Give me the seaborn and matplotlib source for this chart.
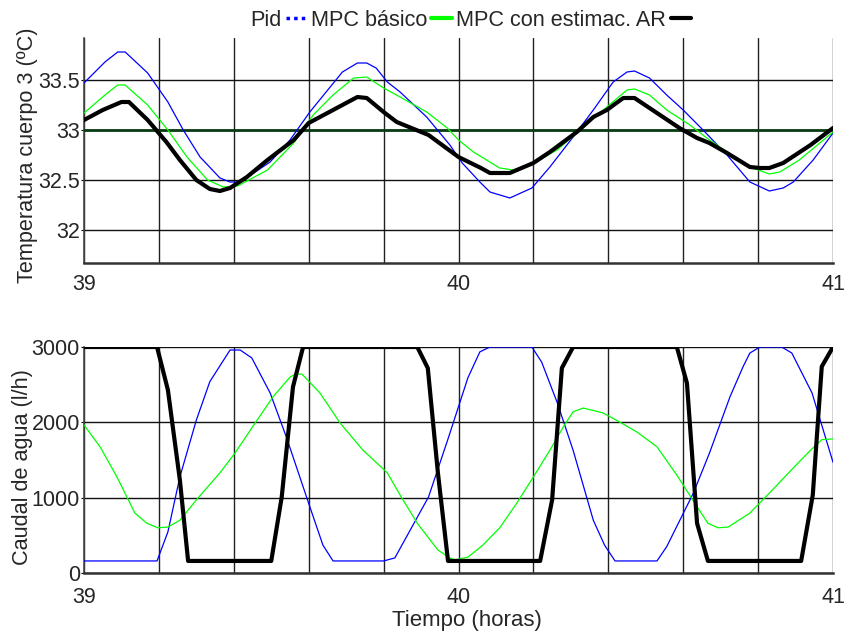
import numpy as np
import pandas as pd
import matplotlib
matplotlib.use("Agg")
import matplotlib.pyplot as plt
from matplotlib.lines import Line2D
import seaborn as sns

# ---------------- data ----------------
# Temperature (top)
t_temp_ar = [39.0, 39.05, 39.10, 39.12, 39.17, 39.22, 39.256, 39.30, 39.336, 39.363, 39.39, 39.435,
             39.49, 39.56, 39.60, 39.665, 39.73, 39.755, 39.80, 39.835, 39.92, 40.0, 40.06, 40.084,
             40.137, 40.20, 40.244, 40.316, 40.36, 40.396, 40.44, 40.47, 40.53, 40.59, 40.637, 40.67,
             40.717, 40.778, 40.805, 40.83, 40.867, 40.94, 41.0]
temp_ar = [33.10, 33.20, 33.28, 33.28, 33.10, 32.88, 32.70, 32.50, 32.41, 32.39, 32.42, 32.53,
           32.70, 32.90, 33.07, 33.20, 33.33, 33.32, 33.18, 33.08, 32.95, 32.73, 32.62, 32.57,
           32.57, 32.67, 32.78, 32.98, 33.13, 33.20, 33.32, 33.32, 33.17, 33.02, 32.92, 32.87,
           32.77, 32.63, 32.62, 32.62, 32.67, 32.85, 33.02]

t_temp_pid = [39.0, 39.056, 39.09, 39.11, 39.17, 39.224, 39.265, 39.31, 39.363, 39.39, 39.417, 39.497,
              39.55, 39.603, 39.69, 39.73, 39.755, 39.78, 39.81, 39.844, 39.915, 39.977, 40.01, 40.057,
              40.084, 40.137, 40.196, 40.244, 40.306, 40.36, 40.413, 40.45, 40.47, 40.51, 40.556, 40.60,
              40.653, 40.717, 40.778, 40.83, 40.867, 40.894, 40.947, 41.0]
temp_pid = [33.47, 33.68, 33.78, 33.78, 33.57, 33.28, 33.00, 32.73, 32.52, 32.48, 32.48, 32.68,
            32.90, 33.18, 33.58, 33.67, 33.67, 33.62, 33.48, 33.38, 33.13, 32.85, 32.67, 32.48,
            32.38, 32.32, 32.42, 32.63, 32.93, 33.20, 33.48, 33.58, 33.59, 33.52, 33.35, 33.20,
            33.00, 32.75, 32.48, 32.39, 32.42, 32.48, 32.70, 32.97]

t_temp_mpc = [39.0, 39.056, 39.09, 39.11, 39.17, 39.224, 39.275, 39.33, 39.372, 39.41, 39.49, 39.56,
              39.612, 39.665, 39.72, 39.755, 39.80, 39.844, 39.915, 39.97, 40.0, 40.04, 40.11, 40.146,
              40.20, 40.263, 40.316, 40.396, 40.45, 40.47, 40.51, 40.556, 40.618, 40.663, 40.717,
              40.778, 40.83, 40.858, 40.91, 41.0]
temp_mpc = [33.17, 33.35, 33.45, 33.45, 33.25, 33.00, 32.73, 32.50, 32.43, 32.44, 32.60, 32.87,
            33.15, 33.35, 33.52, 33.53, 33.42, 33.33, 33.18, 33.02, 32.90, 32.78, 32.62, 32.60,
            32.67, 32.80, 32.97, 33.23, 33.40, 33.41, 33.35, 33.20, 33.05, 32.92, 32.78,
            32.63, 32.56, 32.58, 32.70, 32.98]

setpoint = 33.0

# Water flow (bottom)
t_flow_ar = [39.0, 39.195, 39.224, 39.256, 39.278, 39.50, 39.528, 39.558, 39.585, 39.89, 39.918, 39.945,
             39.972, 40.218, 40.25, 40.276, 40.306, 40.583, 40.61, 40.637, 40.666, 40.915, 40.946,
             40.97, 41.0]
flow_ar = [3000, 3000, 2430, 1235, 160, 160, 1010, 2470, 3000, 3000, 2720, 1330,
           160, 160, 970, 2720, 3000, 3000, 2520, 660, 160, 160, 1035,
           2740, 3000]

t_flow_pid = [39.0, 39.195, 39.224, 39.256, 39.30, 39.336, 39.39, 39.417, 39.448, 39.497, 39.54, 39.603,
              39.638, 39.665, 39.80, 39.83, 39.92, 39.972, 40.025, 40.057, 40.084, 40.196, 40.222,
              40.263, 40.306, 40.36, 40.39, 40.418, 40.53, 40.556, 40.627, 40.67, 40.725, 40.76,
              40.778, 40.805, 40.863, 40.89, 40.944, 41.0]
flow_pid = [160, 160, 545, 1275, 2030, 2540, 2960, 2960, 2855, 2390, 1810, 880,
            370, 160, 160, 200, 1010, 1780, 2590, 2935, 3000, 3000, 2800,
            2270, 1630, 700, 370, 160, 160, 350, 1060, 1590, 2340, 2740,
            2920, 3000, 3000, 2920, 2390, 1470]

t_flow_mpc = [39.0, 39.043, 39.088, 39.136, 39.168, 39.197, 39.224, 39.256, 39.30, 39.363, 39.403, 39.45,
              39.505, 39.55, 39.564, 39.582, 39.63, 39.684, 39.745, 39.782, 39.81, 39.844, 39.89,
              39.945, 39.977, 39.99, 40.025, 40.065, 40.11, 40.156, 40.20, 40.244, 40.28, 40.306,
              40.333, 40.386, 40.43, 40.477, 40.53, 40.583, 40.637, 40.666, 40.693, 40.72, 40.778,
              40.83, 40.894, 40.94, 40.97, 41.0]
flow_mpc = [1965, 1675, 1275, 795, 660, 600, 610, 700, 970, 1330, 1590, 1940,
            2340, 2600, 2640, 2640, 2390, 1990, 1630, 1460, 1330, 1035, 660,
            305, 200, 175, 210, 370, 600, 930, 1275, 1630, 1940, 2140,
            2190, 2125, 2005, 1870, 1675, 1300, 880, 660, 600, 610, 795,
            1060, 1395, 1630, 1770, 1780]

legend_labels = ["Pid", "MPC básico", "MPC con estimac. AR"]
x_ticks = [39, 40, 41]
temp_ticks = [32, 32.5, 33, 33.5]
temp_tick_labels = ["32", "32.5", "33", "33.5"]
flow_ticks = [0, 1000, 2000, 3000]

# ---------------- style ----------------
sns.set_style("white")
plt.rcParams["font.family"] = ["Liberation Sans", "DejaVu Sans"]
FS = 15.6
TICK_FS = 15.5

fig = plt.figure(figsize=(8.45, 6.37), dpi=100)
ax1 = fig.add_axes([84 / 845, 1 - 263 / 637, 749 / 845, 225 / 637])
ax2 = fig.add_axes([84 / 845, 1 - 573 / 637, 749 / 845, 226 / 637])

BLUE = "#0000ff"
GREEN = "#00ff00"
BLACK = "#000000"


def draw(ax, t, y, color, lw, z):
    df = pd.DataFrame({"t": t, "y": y})
    sns.lineplot(data=df, x="t", y="y", ax=ax, color=color, linewidth=lw,
                 estimator=None, sort=False, zorder=z)


# top
ax1.axhline(setpoint, color="#0b3d14", linewidth=2.0, zorder=3)
draw(ax1, t_temp_pid, temp_pid, BLUE, 0.9, 4)
draw(ax1, t_temp_mpc, temp_mpc, GREEN, 0.9, 5)
draw(ax1, t_temp_ar, temp_ar, BLACK, 3.0, 6)
ax1.set_ylim(31.67, 33.92)
ax1.set_yticks(temp_ticks)
ax1.set_yticklabels(temp_tick_labels)
ax1.set_xlabel("")
ax1.set_ylabel("Temperatura cuerpo 3 (ºC)", fontsize=FS)
ax1.yaxis.set_label_coords(-0.062, 0.48)

# bottom
draw(ax2, t_flow_pid, flow_pid, BLUE, 0.9, 4)
draw(ax2, t_flow_mpc, flow_mpc, GREEN, 0.9, 5)
draw(ax2, t_flow_ar, flow_ar, BLACK, 3.0, 6)
ax2.set_ylim(0, 3000)
ax2.set_yticks(flow_ticks)
ax2.set_ylabel("Caudal de agua (l/h)", fontsize=FS)
ax2.yaxis.set_label_coords(-0.068, 0.47)
ax2.set_xlabel("Tiempo (horas)", fontsize=16)
ax2.xaxis.set_label_coords(0.511, -0.165)

for ax in (ax1, ax2):
    ax.set_xlim(39, 41)
    ax.set_xticks(x_ticks)
    ax.set_xticks(np.arange(39.2, 41.0, 0.2), minor=True)
    ax.set_xticklabels([str(v) for v in x_ticks])
    ax.tick_params(axis="both", which="major", labelsize=TICK_FS, length=2, pad=1,
                   color="black", left=True, bottom=False)
    ax.tick_params(axis="x", which="minor", length=0)
    ax.grid(True, which="both", axis="x", color="#222222", linewidth=1.0, zorder=1)
    ax.grid(True, which="major", axis="y", color="#111111", linewidth=1.0, zorder=1)
    ax.set_axisbelow(True)
    for s in ("top", "right"):
        ax.spines[s].set_visible(False)
    ax.spines["left"].set_color("#444444")
    ax.spines["left"].set_linewidth(1.2)
    ax.spines["bottom"].set_color("#333333")
    ax.spines["bottom"].set_linewidth(1.8)

ax1.tick_params(axis="x", which="major", pad=6)
ax2.tick_params(axis="x", which="major", pad=8)

handles = [Line2D([], [], color=BLUE, linestyle=(0, (1, 1.2)), linewidth=2.5),
           Line2D([], [], color=GREEN, linewidth=3),
           Line2D([], [], color=BLACK, linewidth=3)]
fig.legend(handles, legend_labels, loc="center", bbox_to_anchor=(0.557, 0.968),
           ncol=3, frameon=False, markerfirst=False, fontsize=FS,
           handlelength=0.95, handletextpad=0.2, columnspacing=0.2, borderpad=0)

fig.savefig("out.png", dpi=100)
